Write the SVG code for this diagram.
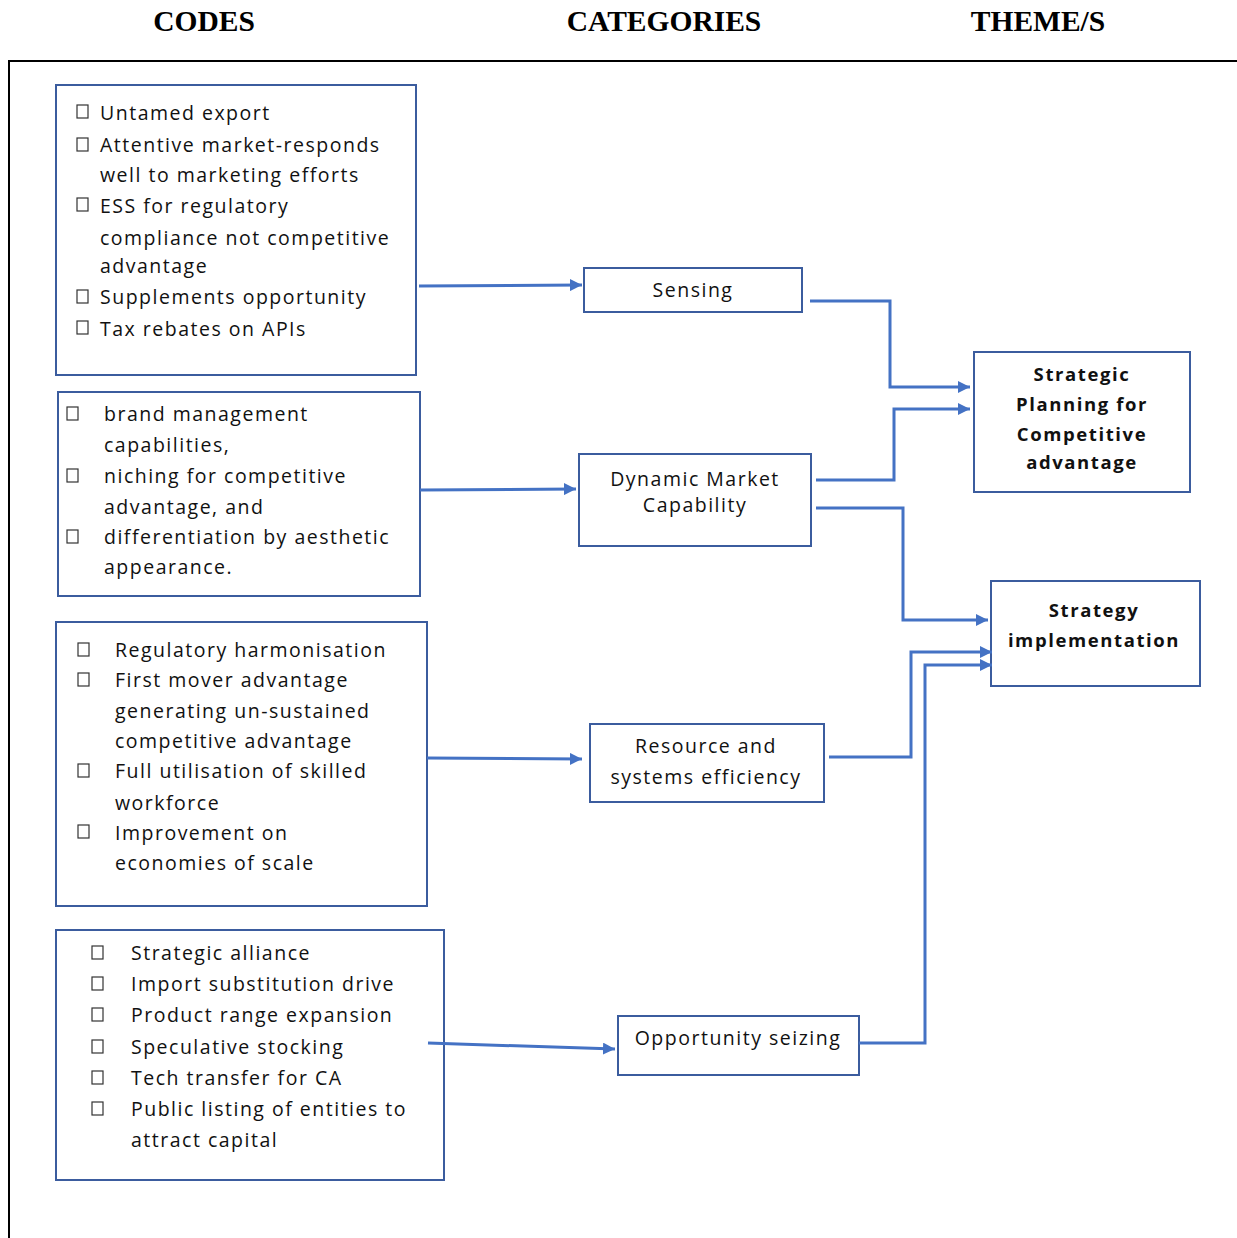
<svg xmlns="http://www.w3.org/2000/svg" width="1237" height="1238" viewBox="0 0 1237 1238">
<style>
.hd{font-family:"Liberation Serif",serif;font-weight:bold;font-size:29.5px;fill:#000;text-anchor:middle}
.box{fill:#fff;stroke:#3B5C9E;stroke-width:2}
.t{font-family:"Open Sans","Noto Sans",sans-serif;font-size:19.5px;fill:#111;letter-spacing:1.5px}
.c{font-family:"Open Sans","Noto Sans",sans-serif;font-size:19.5px;fill:#111;text-anchor:middle;letter-spacing:1.5px}
.b{font-family:"Open Sans","Noto Sans",sans-serif;font-size:18.5px;font-weight:bold;fill:#111;text-anchor:middle;letter-spacing:1.6px}
.cb{fill:#fff;stroke:#333;stroke-width:1.2}
.ln{fill:none;stroke:#4472C4;stroke-width:3}
</style>
<defs>
<marker id="ah" markerUnits="userSpaceOnUse" markerWidth="14" markerHeight="12" refX="12" refY="6" orient="auto">
<path d="M0,0 L12,6 L0,12 Z" fill="#4472C4"/>
</marker>
</defs>
<rect width="1237" height="1238" fill="#fff"/>
<g id="headers">
<text class="hd" x="204" y="31">CODES</text>
<text class="hd" x="664" y="31">CATEGORIES</text>
<text class="hd" x="1038" y="31">THEME/S</text>
</g>
<g id="frame">
<path d="M9,1238 L9,61 L1237,61" fill="none" stroke="#000" stroke-width="2"/>
</g>
<g id="codes1">
<rect class="box" x="56" y="85" width="360" height="290"/>
<rect class="cb" x="77" y="105" width="11" height="13"/>
<rect class="cb" x="77" y="138" width="11" height="13"/>
<rect class="cb" x="77" y="198" width="11" height="13"/>
<rect class="cb" x="77" y="290" width="11" height="13"/>
<rect class="cb" x="77" y="321" width="11" height="13"/>
<text class="t" x="100" y="120">Untamed export</text>
<text class="t" x="100" y="152">Attentive market-responds</text>
<text class="t" x="100" y="182">well to marketing efforts</text>
<text class="t" x="100" y="213">ESS for regulatory</text>
<text class="t" x="100" y="245">compliance not competitive</text>
<text class="t" x="100" y="273">advantage</text>
<text class="t" x="100" y="304">Supplements opportunity</text>
<text class="t" x="100" y="336">Tax rebates on APIs</text>
</g>
<g id="codes2">
<rect class="box" x="58" y="392" width="362" height="204"/>
<rect class="cb" x="67" y="407" width="11" height="13"/>
<rect class="cb" x="67" y="469" width="11" height="13"/>
<rect class="cb" x="67" y="530" width="11" height="13"/>
<text class="t" x="104" y="421">brand management</text>
<text class="t" x="104" y="452">capabilities,</text>
<text class="t" x="104" y="483">niching for competitive</text>
<text class="t" x="104" y="514">advantage, and</text>
<text class="t" x="104" y="544">differentiation by aesthetic</text>
<text class="t" x="104" y="574">appearance.</text>
</g>
<g id="codes3">
<rect class="box" x="56" y="622" width="371" height="284"/>
<rect class="cb" x="78" y="643" width="11" height="13"/>
<rect class="cb" x="78" y="673" width="11" height="13"/>
<rect class="cb" x="78" y="764" width="11" height="13"/>
<rect class="cb" x="78" y="825" width="11" height="13"/>
<text class="t" x="115" y="657">Regulatory harmonisation</text>
<text class="t" x="115" y="687">First mover advantage</text>
<text class="t" x="115" y="718">generating un-sustained</text>
<text class="t" x="115" y="748">competitive advantage</text>
<text class="t" x="115" y="778">Full utilisation of skilled</text>
<text class="t" x="115" y="810">workforce</text>
<text class="t" x="115" y="840">Improvement on</text>
<text class="t" x="115" y="870">economies of scale</text>
</g>
<g id="codes4">
<rect class="box" x="56" y="930" width="388" height="250"/>
<rect class="cb" x="92" y="946" width="11" height="13"/>
<rect class="cb" x="92" y="977" width="11" height="13"/>
<rect class="cb" x="92" y="1008" width="11" height="13"/>
<rect class="cb" x="92" y="1040" width="11" height="13"/>
<rect class="cb" x="92" y="1071" width="11" height="13"/>
<rect class="cb" x="92" y="1102" width="11" height="13"/>
<text class="t" x="131" y="960">Strategic alliance</text>
<text class="t" x="131" y="991">Import substitution drive</text>
<text class="t" x="131" y="1022">Product range expansion</text>
<text class="t" x="131" y="1054">Speculative stocking</text>
<text class="t" x="131" y="1085">Tech transfer for CA</text>
<text class="t" x="131" y="1116">Public listing of entities to</text>
<text class="t" x="131" y="1147">attract capital</text>
</g>
<g id="sensing">
<rect class="box" x="584" y="268" width="218" height="44"/>
<text class="c" x="693" y="297">Sensing</text>
</g>
<g id="dynamic">
<rect class="box" x="579" y="454" width="232" height="92"/>
<text class="c" x="695" y="486">Dynamic Market</text>
<text class="c" x="695" y="512">Capability</text>
</g>
<g id="resource">
<rect class="box" x="590" y="724" width="234" height="78"/>
<text class="c" x="706" y="753">Resource and</text>
<text class="c" x="706" y="784">systems efficiency</text>
</g>
<g id="opportunity">
<rect class="box" x="618" y="1016" width="241" height="59"/>
<text class="c" x="738" y="1045">Opportunity seizing</text>
</g>
<g id="strategic">
<rect class="box" x="974" y="352" width="216" height="140"/>
<text class="b" x="1082" y="381">Strategic</text>
<text class="b" x="1082" y="411">Planning for</text>
<text class="b" x="1082" y="441">Competitive</text>
<text class="b" x="1082" y="469">advantage</text>
</g>
<g id="implementation">
<rect class="box" x="991" y="581" width="209" height="105"/>
<text class="b" x="1094" y="617">Strategy</text>
<text class="b" x="1094" y="647">implementation</text>
</g>
<g id="connectors">
<path class="ln" d="M419,286 L582,285" marker-end="url(#ah)"/>
<path class="ln" d="M420,490 L576,489" marker-end="url(#ah)"/>
<path class="ln" d="M427,758 L582,759" marker-end="url(#ah)"/>
<path class="ln" d="M428,1043 L615,1049" marker-end="url(#ah)"/>
<path class="ln" d="M810,301 L890,301 L890,387 L970,387" marker-end="url(#ah)"/>
<path class="ln" d="M816,480 L894,480 L894,409 L970,409" marker-end="url(#ah)"/>
<path class="ln" d="M816,508 L903,508 L903,620 L988,620" marker-end="url(#ah)"/>
<path class="ln" d="M829,757 L911,757 L911,652 L992,652" marker-end="url(#ah)"/>
<path class="ln" d="M859,1043 L925,1043 L925,665 L992,665" marker-end="url(#ah)"/>
</g>
</svg>
